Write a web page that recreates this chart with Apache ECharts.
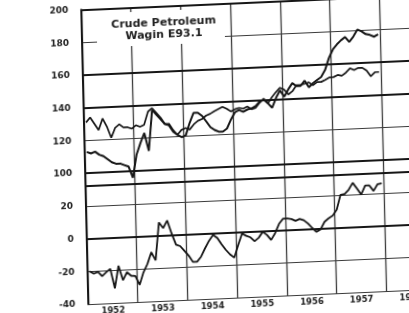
<!DOCTYPE html>
<html><head><meta charset="utf-8">
<script src="https://cdn.jsdelivr.net/npm/echarts@6/dist/echarts.min.js"></script>
<style>
html,body{margin:0;padding:0;width:409px;height:313px;overflow:hidden;background:#fff;}
#c{width:433px;height:313px;transform-origin:204.5px 156.5px;transform:matrix(1,-0.044,0.024,1,0,0);filter:blur(0.45px);}
</style></head><body><div id="c"></div>
<script>
const startYear = 1952;
const xYearLabels = ['1952','1953','1954','1955','1956','1957','1958'];
const yTickLabels = ['200','180','160','140','120','100','20','0','-20','-40'];
const titleLines = ['Crude Petroleum','Wagin E93.1'];
// upper panel (index scale)
const seriesA = [
  113,112,113,111,110,108,106,105,105,104,103,96,
  110,117,123,112,137,134,131,128,127,123,121,119.5,
  120.5,128,134,134,132,128.5,124.8,123,121.8,121.8,123.6,129,
  133.3,134.5,133.3,134.6,135.2,136.5,139,140.3,137.9,135,141,145.4,
  141.5,145.8,149.5,147.6,147.6,150.7,146.5,149,150.8,152.5,156.7,164,
  169,172,174.4,176.2,173.2,176.3,180.5,179.3,177.5,176.9,175.7,177
];
const seriesB = [
  131,134,130,126,133,128,121,127,129,127,127,126,
  128,127,128,136,138,135,132,128,128,124,121,124,
  125,124,127,129,130,132,133,134.5,135.7,136.9,135.7,133.9,
  135.1,135.8,135.2,136.4,134.7,135.4,138.4,140.8,137.8,141.5,144.5,147,
  145.8,142.7,144.6,148.2,148.2,148.8,149.5,147.7,149.5,149.5,150.7,152,
  152.1,153.3,152.7,154.5,157,155.8,157,157,155.2,151.6,154,154
];
// lower panel (change scale)
const seriesC = [
  -20,-21.5,-20.5,-23.3,-21,-19,-31,-17.4,-26.3,-21.5,-23.8,-24,
  -29.6,-22,-17,-10,-15,8,4.5,9,1,-6,-7,-10,
  -13,-17,-17,-14,-9,-4.5,-1,-3,-7,-10.5,-13.4,-15.5,
  -8,-1,-2.5,-3.5,-6,-4,-0.5,-2.5,-5.7,-1.6,4,7,
  7,6.5,5.3,6.4,5.5,3.3,0.5,-2,-0.5,4,6,7.5,
  11,20,20.4,22.9,27,23.4,19.6,25,25,21.5,25.5,26
];
const heavyLines = [200,160,140,100,92.5,60];

const toPts = arr => arr.map((v,i)=>[startYear + (i+0.5)/12, v]);
const chart = echarts.init(document.getElementById('c'));
const ink = '#161616';
chart.setOption({
  animation:false,
  backgroundColor:'#fff',
  grid:{left:85, right:0, top:3.5, bottom:14},
  xAxis:[{
    type:'value', min:1952, max:1959, interval:1,
    axisLabel:{show:false}, axisTick:{show:false},
    axisLine:{show:true, lineStyle:{color:ink, width:2}},
    splitLine:{show:true, lineStyle:{color:'#3c3c3c', width:1.3}}
  },{
    type:'category', data:xYearLabels, boundaryGap:true, position:'bottom',
    axisLine:{show:false}, axisTick:{show:false}, splitLine:{show:false},
    axisLabel:{margin:3, color:'#222', fontSize:8.5, fontWeight:'bold', fontFamily:'DejaVu Sans'}
  }],
  yAxis:[{
    type:'value', min:20, max:200, interval:20,
    axisLine:{show:true, lineStyle:{color:ink, width:2}},
    axisTick:{show:false},
    splitLine:{show:true, lineStyle:{color:'#3a3a3a', width:1.2}},
    axisLabel:{margin:13, color:'#222', fontSize:9, fontWeight:'bold', fontFamily:'DejaVu Sans',
      formatter: v => yTickLabels[Math.round((200 - v)/20)]}
  },{
    type:'value', min:-40, max:140, interval:20, show:false, splitLine:{show:false}
  }],
  graphic:[
    {type:'rect', z:10, shape:{x:100, y:9, width:128, height:34}, style:{fill:'#fff'}},
    {type:'text', z:11, x:167, y:27, style:{text:titleLines.join('\n'), font:'bold 11px "DejaVu Sans"',
      align:'center', verticalAlign:'middle', textAlign:'center', textVerticalAlign:'middle', lineHeight:12, fill:'#222'}}
  ],
  series:[
    {type:'line', xAxisIndex:0, yAxisIndex:0, data:toPts(seriesA), showSymbol:false,
      lineStyle:{color:ink, width:2},
      markLine:{silent:true, symbol:'none', label:{show:false},
        lineStyle:{color:ink, width:2, type:'solid'},
        data: heavyLines.map(v=>({yAxis:v}))}},
    {type:'line', xAxisIndex:0, yAxisIndex:0, data:toPts(seriesB), showSymbol:false,
      lineStyle:{color:ink, width:1.7}},
    {type:'line', xAxisIndex:0, yAxisIndex:1, data:toPts(seriesC), showSymbol:false,
      lineStyle:{color:ink, width:1.8}}
  ]
});
</script></body></html>
